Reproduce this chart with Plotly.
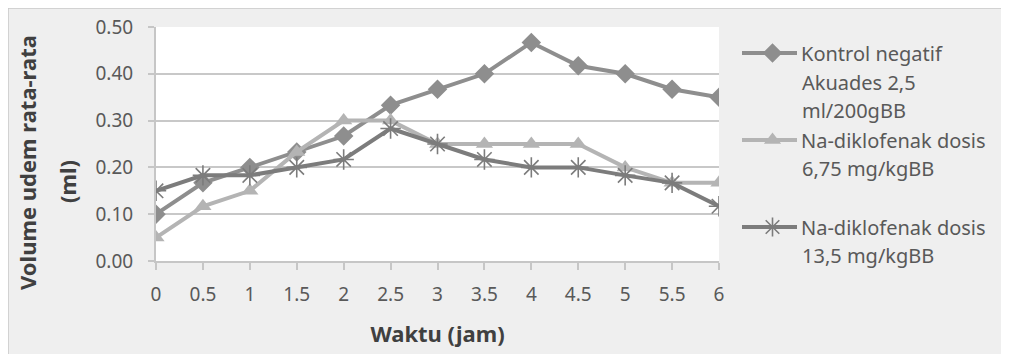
import plotly.graph_objects as go

# ---- data ----
waktu = [0, 0.5, 1, 1.5, 2, 2.5, 3, 3.5, 4, 4.5, 5, 5.5, 6]
x_tick_labels = ["0", "0.5", "1", "1.5", "2", "2.5", "3", "3.5", "4", "4.5", "5", "5.5", "6"]
y_tick_vals = [0.0, 0.1, 0.2, 0.3, 0.4, 0.5]
y_tick_labels = ["0.00", "0.10", "0.20", "0.30", "0.40", "0.50"]

kontrol = [0.100, 0.167, 0.200, 0.233, 0.267, 0.333, 0.367, 0.400, 0.467, 0.417, 0.400, 0.367, 0.350]
nadik_675 = [0.050, 0.117, 0.150, 0.233, 0.300, 0.300, 0.250, 0.250, 0.250, 0.250, 0.200, 0.167, 0.167]
nadik_135 = [0.150, 0.183, 0.183, 0.200, 0.217, 0.283, 0.250, 0.217, 0.200, 0.200, 0.183, 0.167, 0.117]

label_lines = [
    ["Kontrol negatif", "Akuades 2,5", "ml/200gBB"],
    ["Na-diklofenak dosis", "6,75 mg/kgBB"],
    ["Na-diklofenak dosis", "13,5 mg/kgBB"],
]

# ---- layout geometry (page pixels; the page body adds an 8px offset) ----
OFF = 8
W, H = 1009 - OFF, 354 - OFF
L, R, T, B = 156 - OFF, 719 - OFF, 27 - OFF, 261 - OFF
PW, PH = R - L, B - T


def px(xp):
    return (xp - OFF - L) / PW


def py(yp):
    return (B - (yp - OFF)) / PH


FONT = "Noto Sans"
TXT = "#595959"
c_kon, c_675, c_135 = "#8e8e8e", "#b4b4b4", "#7c7c7c"

fig = go.Figure()
fig.add_trace(go.Scatter(
    x=waktu, y=kontrol, mode="lines+markers", name=label_lines[0][0],
    line=dict(color=c_kon, width=4),
    marker=dict(symbol="diamond", size=15, color=c_kon),
    legend="legend"))
fig.add_trace(go.Scatter(
    x=waktu, y=nadik_675, mode="lines+markers", name=label_lines[1][0],
    line=dict(color=c_675, width=4),
    marker=dict(symbol="triangle-up", size=15, color=c_675),
    legend="legend2"))
fig.add_trace(go.Scatter(
    x=waktu, y=nadik_135, mode="lines+markers", name=label_lines[2][0],
    line=dict(color=c_135, width=4),
    marker=dict(symbol="asterisk-open", size=17, color=c_135,
                line=dict(color=c_135, width=1.6)),
    legend="legend3"))

legend_y = [53, 140, 227]
line_y = [[82, 111], [168], [255]]
colors = [c_kon, c_675, c_135]

shapes = [
    # chart border
    dict(type="rect", xref="paper", yref="paper", x0=px(OFF), x1=px(1030), y0=py(380), y1=py(OFF),
         line=dict(color="#c9c9c9", width=1.5), layer="below"),
    # white plot area
    dict(type="rect", xref="paper", yref="paper", x0=0, x1=1, y0=0, y1=1,
         fillcolor="white", line=dict(width=0), layer="below"),
]
for yy, cc in zip(legend_y, colors):
    shapes.append(dict(type="line", xref="paper", yref="paper", x0=px(742), x1=px(797),
                       y0=py(yy), y1=py(yy), line=dict(color=cc, width=4), layer="above"))

annotations = [
    dict(text="<b>Volume udem rata-rata</b>", xref="paper", yref="paper", x=px(27), y=py(163),
         textangle=-90, showarrow=False, xanchor="center", yanchor="middle",
         font=dict(family=FONT, size=22, color="#404040")),
    dict(text="<b>(ml)</b>", xref="paper", yref="paper", x=px(67), y=py(182),
         textangle=-90, showarrow=False, xanchor="center", yanchor="middle",
         font=dict(family=FONT, size=22, color="#404040")),
]
for lines, ys in zip(label_lines, line_y):
    for t, yy in zip(lines[1:], ys):
        annotations.append(dict(text=t, xref="paper", yref="paper", x=px(800), y=py(yy),
                                showarrow=False, xanchor="left", yanchor="middle",
                                font=dict(family=FONT, size=20, color=TXT)))


def leg(yy):
    return dict(x=px(744), y=py(yy), xanchor="left", yanchor="middle", visible=True,
                bgcolor="rgba(0,0,0,0)", borderwidth=0, itemwidth=47,
                font=dict(family=FONT, size=20, color=TXT), itemclick=False)


fig.update_layout(
    width=W, height=H,
    margin=dict(l=L, r=W - R, t=T, b=H - B, autoexpand=False),
    paper_bgcolor="#efefef", plot_bgcolor="white", showlegend=True,
    font=dict(family=FONT, size=19, color=TXT),
    shapes=shapes, annotations=annotations,
    legend=leg(legend_y[0]), legend2=leg(legend_y[1]), legend3=leg(legend_y[2]),
    xaxis=dict(range=[0, 6], tickvals=waktu, ticktext=x_tick_labels,
               showgrid=False, zeroline=False, showline=True, linecolor="#c6c6c6", linewidth=2,
               ticks="outside", ticklen=7, tickwidth=2, tickcolor="#c6c6c6",
               tickfont=dict(family=FONT, size=19, color=TXT), ticklabelstandoff=8,
               title=dict(text="<b>Waktu (jam)</b>", font=dict(family=FONT, size=22, color="#404040"),
                          standoff=21)),
    yaxis=dict(range=[0, 0.5], tickvals=y_tick_vals, ticktext=y_tick_labels,
               showgrid=True, gridcolor="#c8c8c8", gridwidth=2, zeroline=False,
               showline=True, linecolor="#c6c6c6", linewidth=2,
               ticks="outside", ticklen=6, tickwidth=2, tickcolor="#c6c6c6",
               tickfont=dict(family=FONT, size=19, color=TXT), ticklabelstandoff=11),
)

fig.write_html("out.html")
